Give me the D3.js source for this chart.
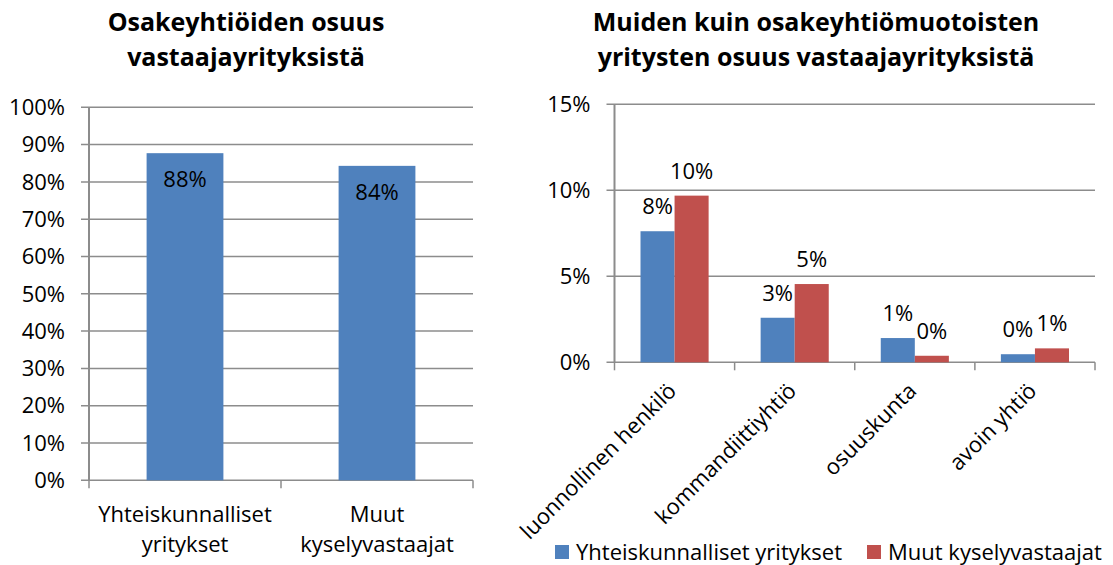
<!DOCTYPE html>
<html>
<head>
<meta charset="utf-8">
<script src="https://cdn.jsdelivr.net/npm/d3@7"></script>
<style>
    body { margin: 0; background: #fff; }
    svg { display: block; font-family: "Open Sans", sans-serif; }
    .title { font-weight: bold; font-size: 25px; fill: #000; }
    .tick-label, .bar-label, .cat-label, .legend-label { font-size: 22px; fill: #000; }
</style>
</head>
<body>
<div id="chart"></div>
<script>
// Left chart: share of limited companies
const leftTitle = ["Osakeyhtiöiden osuus", "vastaajayrityksistä"];
const leftCategories = [["Yhteiskunnalliset", "yritykset"], ["Muut", "kyselyvastaajat"]];
const leftValues = [0.877, 0.843];
const leftTicks = [0, 0.1, 0.2, 0.3, 0.4, 0.5, 0.6, 0.7, 0.8, 0.9, 1.0];

// Right chart: share of other company forms
const rightTitle = ["Muiden kuin osakeyhtiömuotoisten", "yritysten osuus vastaajayrityksistä"];
const rightCategories = ["luonnollinen henkilö", "kommandiittiyhtiö", "osuuskunta", "avoin yhtiö"];
const seriesNames = ["Yhteiskunnalliset yritykset", "Muut kyselyvastaajat"];
const socialValues = [0.0762, 0.0259, 0.0141, 0.0047];
const otherValues = [0.0969, 0.0455, 0.0038, 0.0081];
const rightTicks = [0, 0.05, 0.10, 0.15];

const colors = ["#4f81bd", "#c0504d"];
const gridColor = "#8c8c8c";
const pct = d3.format(".0%");

const svg = d3.select("#chart").append("svg")
    .attr("width", 1113)
    .attr("height", 565);

function drawTitle(lines, cx) {
    svg.append("text")
        .attr("class", "title")
        .attr("text-anchor", "middle")
        .selectAll("tspan")
        .data(lines)
        .join("tspan")
        .attr("x", cx)
        .attr("y", (d, i) => 31 + i * 35)
        .text(d => d);
}

function drawGridAndAxis(g, y, ticks, x0, x1) {
    g.selectAll("line.grid")
        .data(ticks)
        .join("line")
        .attr("class", "grid")
        .attr("x1", x0 - 8)
        .attr("x2", x1)
        .attr("y1", d => y(d))
        .attr("y2", d => y(d))
        .attr("stroke", gridColor)
        .attr("stroke-width", 1.5);
    g.selectAll("text.tick-label")
        .data(ticks)
        .join("text")
        .attr("class", "tick-label")
        .attr("x", x0 - 24)
        .attr("y", d => y(d))
        .attr("dy", "0.35em")
        .attr("text-anchor", "end")
        .text(d => pct(d));
    g.append("line")
        .attr("x1", x0).attr("x2", x0)
        .attr("y1", y.range()[1]).attr("y2", y.range()[0])
        .attr("stroke", gridColor)
        .attr("stroke-width", 2);
}

// ---- left chart ----
{
    const g = svg.append("g");
    const x = d3.scaleBand().domain(d3.range(leftCategories.length)).range([89, 473]);
    const y = d3.scaleLinear().domain([0, 1]).range([480.3, 107.3]);
    drawTitle(leftTitle, 246);
    drawGridAndAxis(g, y, leftTicks, 89, 473);

    // category tick marks
    g.selectAll("line.xtick")
        .data(d3.range(leftCategories.length + 1))
        .join("line")
        .attr("x1", i => 89 + i * x.bandwidth())
        .attr("x2", i => 89 + i * x.bandwidth())
        .attr("y1", y(0)).attr("y2", y(0) + 8)
        .attr("stroke", gridColor).attr("stroke-width", 1.5);

    const barW = x.bandwidth() * 0.4;
    g.selectAll("rect")
        .data(leftValues)
        .join("rect")
        .attr("x", (d, i) => x(i) + (x.bandwidth() - barW) / 2)
        .attr("y", d => y(d))
        .attr("width", barW)
        .attr("height", d => y(0) - y(d))
        .attr("fill", colors[0]);

    g.selectAll("text.bar-label")
        .data(leftValues)
        .join("text")
        .attr("class", "bar-label")
        .attr("x", (d, i) => x(i) + x.bandwidth() / 2)
        .attr("y", d => y(d) + 34)
        .attr("text-anchor", "middle")
        .text(d => pct(d));

    leftCategories.forEach((lines, i) => {
        g.append("text")
            .attr("class", "cat-label")
            .attr("text-anchor", "middle")
            .selectAll("tspan")
            .data(lines)
            .join("tspan")
            .attr("x", x(i) + x.bandwidth() / 2)
            .attr("y", (d, j) => 521.5 + j * 30)
            .text(d => d);
    });
}

// ---- right chart ----
{
    const g = svg.append("g");
    const x = d3.scaleBand().domain(rightCategories).range([614.5, 1095]);
    const y = d3.scaleLinear().domain([0, 0.15]).range([362.3, 104.3]);
    drawTitle(rightTitle, 816);
    drawGridAndAxis(g, y, rightTicks, 614.5, 1095);

    g.selectAll("line.xtick")
        .data(d3.range(rightCategories.length + 1))
        .join("line")
        .attr("x1", i => 614.5 + i * x.bandwidth())
        .attr("x2", i => 614.5 + i * x.bandwidth())
        .attr("y1", y(0)).attr("y2", y(0) + 8)
        .attr("stroke", gridColor).attr("stroke-width", 1.5);

    const groupW = x.bandwidth() * 0.567;
    const x1 = d3.scaleBand().domain(seriesNames).range([0, groupW]);
    const series = [socialValues, otherValues];

    series.forEach((values, s) => {
        const name = seriesNames[s];
        const bx = cat => x(cat) + (x.bandwidth() - groupW) / 2 + x1(name);
        g.selectAll(`rect.s${s}`)
            .data(values)
            .join("rect")
            .attr("class", `s${s}`)
            .attr("x", (d, i) => bx(rightCategories[i]))
            .attr("y", d => y(d))
            .attr("width", x1.bandwidth())
            .attr("height", d => y(0) - y(d))
            .attr("fill", colors[s]);
        g.selectAll(`text.l${s}`)
            .data(values)
            .join("text")
            .attr("class", `bar-label l${s}`)
            .attr("x", (d, i) => bx(rightCategories[i]) + x1.bandwidth() / 2)
            .attr("y", d => y(d) - 17)
            .attr("text-anchor", "middle")
            .text(d => pct(d));
    });

    g.selectAll("text.cat-label")
        .data(rightCategories)
        .join("text")
        .attr("class", "cat-label")
        .attr("text-anchor", "end")
        .attr("transform", d => `translate(${x(d) + x.bandwidth() / 2 + 3},${y(0) + 30}) rotate(-45)`)
        .text(d => d);

    // legend
    const legendItems = [{ x: 555, w: 14 }, { x: 867, w: 14 }];
    legendItems.forEach((item, s) => {
        g.append("rect")
            .attr("x", item.x).attr("y", 545)
            .attr("width", item.w).attr("height", item.w)
            .attr("fill", colors[s]);
        g.append("text")
            .attr("class", "legend-label")
            .attr("x", item.x + 21)
            .attr("y", 559.5)
            .text(seriesNames[s]);
    });
}
</script>
</body>
</html>
